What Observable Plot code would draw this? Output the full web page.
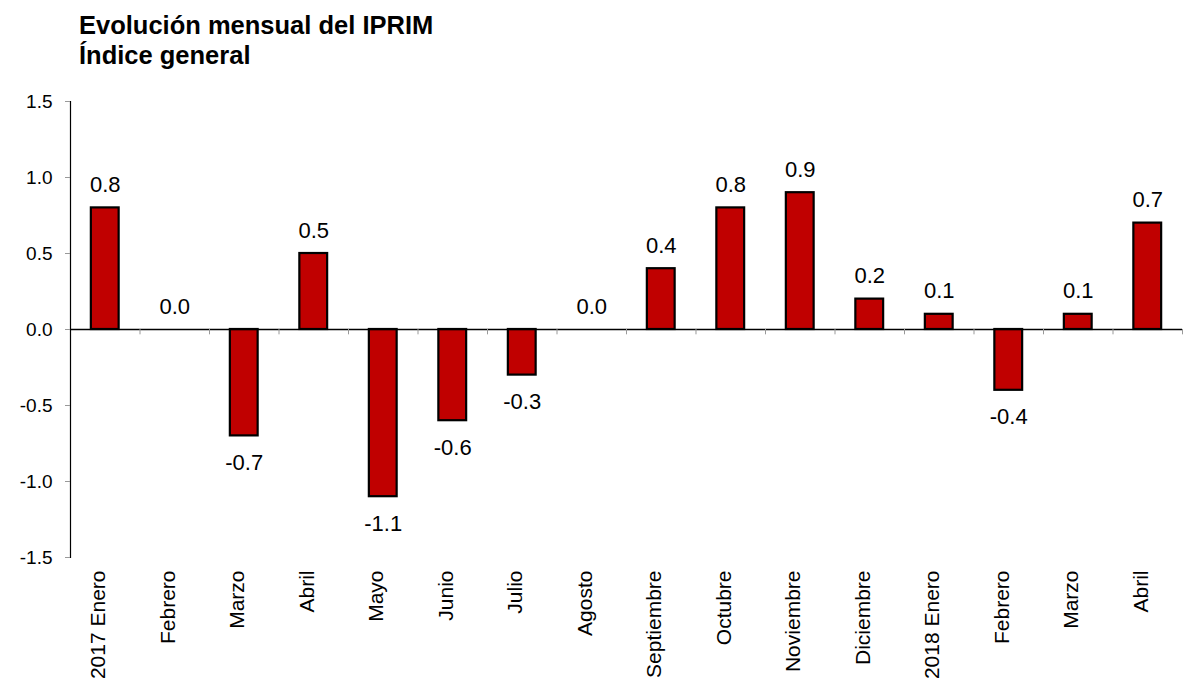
<!DOCTYPE html>
<html>
<head>
<meta charset="utf-8">
<script src="https://cdn.jsdelivr.net/npm/d3@7"></script>
<script src="https://cdn.jsdelivr.net/npm/@observablehq/plot@0.6"></script>
<style>
  html, body { margin: 0; padding: 0; background: white; }
  #wrap { position: relative; width: 1186px; height: 680px; }
  #title { position: absolute; left: 79px; top: 10px; font: bold 25.5px "Liberation Sans", Arial, sans-serif; line-height: 30px; color: #000; }
</style>
</head>
<body>
<div id="wrap">
  <div id="chart"></div>
  <div id="title">Evolución mensual del IPRIM<br>Índice general</div>
</div>
<script>
const labels = ["2017 Enero", "Febrero", "Marzo", "Abril", "Mayo", "Junio", "Julio", "Agosto",
  "Septiembre", "Octubre", "Noviembre", "Diciembre", "2018 Enero", "Febrero ", "Marzo ", "Abril "];
const values = [0.8, 0.0, -0.7, 0.5, -1.1, -0.6, -0.3, 0.0, 0.4, 0.8, 0.9, 0.2, 0.1, -0.4, 0.1, 0.7];
const yTicks = [-1.5, -1.0, -0.5, 0.0, 0.5, 1.0, 1.5];

const data = labels.map((label, i) => ({label, v: values[i]}));

const W = 1186, H = 680, mL = 70, mR = 4;
const step = (W - mL - mR) / labels.length;

const chart = Plot.plot({
  width: W,
  height: H,
  marginTop: 101,
  marginBottom: 123,
  marginLeft: mL,
  marginRight: mR,
  style: {fontFamily: "'Liberation Sans', Arial, sans-serif", fontSize: "19px", background: "white", color: "black"},
  x: {domain: labels, paddingInner: 0.6, paddingOuter: 0.3, round: false, axis: null},
  y: {domain: [-1.5, 1.5], axis: null},
  marks: [
    Plot.barY(data, {x: "label", y: "v", fill: "#C00000", stroke: "black", strokeWidth: 2.2}),
    Plot.ruleY([0], {stroke: "black", strokeWidth: 1.5}),
    Plot.ruleX(data, {x: "label", y1: 0, y2: -0.035, dx: step / 2, stroke: "#999", strokeWidth: 1}),
    Plot.frame({anchor: "left", stroke: "black", strokeWidth: 1.2}),
    Plot.axisY({ticks: yTicks, tickFormat: d => d.toFixed(1), label: null, tickSize: 5, tickPadding: 13, stroke: "#999", fill: "black", fontSize: 19}),
    Plot.text(data.filter(d => d.v >= 0), {x: "label", y: "v", text: d => d.v.toFixed(1), dy: -23, fontSize: 22, fill: "black"}),
    Plot.text(data.filter(d => d.v < 0), {x: "label", y: "v", text: d => d.v.toFixed(1), dy: 27, fontSize: 22, fill: "black"}),
    Plot.text(data, {x: "label", frameAnchor: "bottom", text: d => d.label.trim(), rotate: -90, textAnchor: "end", dy: 13, fontSize: 21, fill: "black"})
  ]
});
document.getElementById("chart").appendChild(chart);
</script>
</body>
</html>
